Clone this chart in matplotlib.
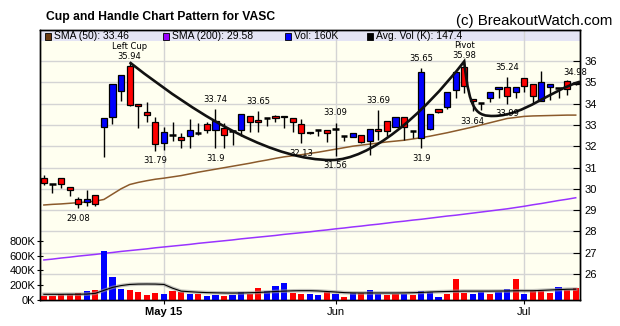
"""Cup-and-handle candlestick chart with volume panel."""
import matplotlib
matplotlib.use("Agg")
import matplotlib.pyplot as plt
import numpy as np
import pandas as pd
from matplotlib.patches import Rectangle, PathPatch
from matplotlib.path import Path

# --- daily prices (Apr 13 - Jul 10, 2015)
opens = [30.49, 30.21, 30.49, 30.07, 29.54, 29.37, 29.69, 32.89, 33.36, 34.61,
         35.75, 33.98, 33.59, 33.15, 32.14, 32.54, 32.42, 32.49, 32.63, 33.03,
         32.76, 32.87, 32.73, 32.76, 33.42, 33.23, 33.31, 33.43, 33.36, 33.31,
         33.03, 32.60, 32.75, 32.75, 32.79, 32.48, 32.45, 32.53, 32.24, 32.79,
         33.20, 32.92, 33.36, 32.71, 32.37, 32.79, 33.73, 33.83, 34.64, 35.70,
         34.20, 34.04, 34.25, 34.69, 34.77, 34.53, 35.19, 34.90, 34.12, 34.77,
         34.72, 35.08, 34.90]
highs = [30.66, 30.23, 30.52, 30.08, 29.60, 29.94, 29.70, 33.33, 34.92, 35.35,
         35.94, 34.00, 34.06, 33.38, 32.92, 33.12, 32.60, 33.26, 33.10, 33.15,
         33.74, 33.07, 32.75, 33.51, 33.42, 33.65, 33.32, 33.45, 33.43, 33.31,
         33.26, 32.68, 32.76, 32.76, 33.09, 32.49, 32.64, 32.53, 32.79, 33.69,
         33.20, 33.36, 33.37, 32.72, 35.65, 33.50, 33.74, 34.53, 35.47, 35.98,
         34.22, 34.05, 34.53, 34.80, 35.24, 34.77, 35.20, 34.93, 35.53, 34.90,
         34.73, 35.09, 34.98]
lows = [30.18, 29.79, 30.02, 29.66, 29.08, 29.19, 29.19, 31.51, 33.04, 34.14,
        33.90, 32.84, 33.12, 31.79, 31.82, 32.24, 31.90, 31.90, 32.53, 32.60,
        31.90, 31.90, 32.06, 32.48, 32.65, 32.68, 32.96, 33.15, 32.87, 32.68,
        32.13, 32.55, 32.49, 32.21, 31.56, 32.26, 32.45, 32.14, 31.59, 32.29,
        32.48, 32.90, 32.29, 32.37, 31.90, 32.78, 33.54, 33.73, 34.25, 34.50,
        33.64, 33.70, 34.09, 34.25, 33.99, 34.25, 34.56, 33.98, 34.12, 34.17,
        34.25, 34.40, 34.85]
closes = [30.26, 30.21, 30.21, 29.94, 29.29, 29.51, 29.29, 33.31, 34.92, 35.34,
          33.95, 33.87, 33.45, 32.09, 32.65, 32.54, 32.29, 32.76, 32.63, 32.76,
          33.17, 32.51, 32.73, 33.51, 33.15, 33.14, 33.31, 33.31, 33.43, 33.12,
          32.63, 32.68, 32.75, 32.63, 32.79, 32.48, 32.64, 32.18, 32.79, 32.71,
          32.71, 33.36, 32.89, 32.71, 35.47, 33.50, 33.61, 34.53, 35.47, 34.83,
          34.11, 34.04, 34.53, 34.80, 34.37, 34.77, 34.83, 34.37, 35.00, 34.90,
          34.72, 34.67, 34.98]

# --- volume (thousands) and up/down colouring
volume_k = [54, 54, 81, 81, 95, 122, 135, 662, 311, 149,
            135, 108, 68, 95, 81, 122, 108, 81, 81, 54,
            68, 54, 68, 108, 81, 162, 122, 189, 230, 95,
            81, 81, 68, 112, 81, 41, 95, 95, 135, 81,
            68, 81, 81, 68, 122, 108, 41, 81, 284, 95,
            81, 108, 81, 108, 149, 284, 81, 135, 122, 95,
            176, 135, 162]
volume_dir = "rrrrrbrbbbrrrrbrrbrbbrbbrrbbbrrbbrbrbrbbrrbrbbbrrrbbrbbrbrrrb"
avg_vol_k = [77, 77, 77, 78, 78, 80, 90, 130, 170, 195,
             210, 215, 216, 215, 210, 160, 120, 112, 105, 100,
             97, 95, 94, 95, 98, 102, 108, 115, 120, 124,
             126, 126, 122, 115, 108, 100, 96, 95, 95, 95,
             95, 95, 96, 98, 102, 108, 112, 115, 118, 120,
             120, 120, 120, 121, 122, 125, 125, 125, 130, 135,
             140, 145, 147]

# --- moving averages
sma50 = [29.24, 29.27, 29.29, 29.32, 29.35, 29.38, 29.42, 29.50, 29.75, 30.00,
         30.20, 30.30, 30.38, 30.45, 30.50, 30.56, 30.62, 30.70, 30.78, 30.85,
         30.92, 30.99, 31.06, 31.13, 31.20, 31.28, 31.35, 31.43, 31.50, 31.55,
         31.60, 31.66, 31.72, 31.79, 31.86, 31.93, 32.00, 32.05, 32.10, 32.15,
         32.20, 32.24, 32.28, 32.34, 32.40, 32.47, 32.55, 32.63, 32.72, 32.81,
         32.90, 33.00, 33.10, 33.20, 33.30, 33.35, 33.40, 33.42, 33.43, 33.44,
         33.45, 33.46, 33.46]
sma200 = [26.66, 26.70, 26.75, 26.79, 26.84, 26.88, 26.92, 26.97, 27.01, 27.06,
          27.10, 27.14, 27.18, 27.23, 27.27, 27.31, 27.35, 27.39, 27.44, 27.48,
          27.52, 27.56, 27.60, 27.65, 27.69, 27.73, 27.77, 27.81, 27.86, 27.90,
          27.94, 27.98, 28.03, 28.07, 28.12, 28.16, 28.21, 28.25, 28.30, 28.34,
          28.39, 28.44, 28.48, 28.53, 28.57, 28.62, 28.67, 28.72, 28.76, 28.81,
          28.86, 28.91, 28.96, 29.01, 29.06, 29.12, 29.18, 29.25, 29.31, 29.38,
          29.45, 29.51, 29.58]

# --- pattern: Bezier control points (trading-day index, price)
cup_x = [10, 19, 27, 33.5, 38, 44, 49, 49.6, 50.5, 52.5, 56, 59, 62.5]
cup_y = [35.94, 33.1, 31.35, 31.35, 31.35, 33.4, 35.98, 33.6, 33.4, 33.42, 33.45, 34.6, 35.03]

# labelled highs / lows: (index, "H" or "L")
price_labels = [(10, "H"), (4, "L"), (13, "L"), (20, "H"), (20, "L"), (25, "H"),
                (30, "L"), (34, "H"), (34, "L"), (39, "H"), (44, "H"), (44, "L"),
                (49, "H"), (50, "L"), (54, "H"), (54, "L"), (62, "H")]
pattern_names = {10: "Left Cup", 49: "Pivot"}

holidays = ["2015-05-25", "2015-07-03"]
dates = pd.bdate_range("2015-04-13", "2015-07-10")
dates = dates[~dates.isin(pd.to_datetime(holidays))]

RED, BLUE = "#ff0000", "#0000ff"
BG = "#fffff0"

fig = plt.figure(figsize=(6.2, 3.26), dpi=100)
ax = fig.add_axes([40 / 620, 26 / 326, 540 / 620, 270 / 326])
vax = ax.twinx()

n = len(closes)
x = np.arange(n)
ax.set_xlim(-0.45, n - 0.5)
ax.set_ylim(24.78, 37.455)
vax.set_ylim(0, 3649)
ax.set_facecolor(BG)

# legend strip across the top
ax.add_patch(Rectangle((0, 0.959), 1, 0.041, transform=ax.transAxes,
                       facecolor="#e4e4f4", edgecolor="none", zorder=0.3))

# grid
ax.set_axisbelow(True)
ax.set_yticks(range(26, 37))
ax.grid(True, color="#d4d4d4", linewidth=1.0)

# month ticks
month_pos = [i for i in range(1, n) if dates[i].month != dates[i - 1].month]
ax.set_xticks(month_pos)
ax.set_xticklabels(["May 15", "Jun", "Jul"], fontsize=8,
                   family="Liberation Sans")
ax.get_xticklabels()[0].set_fontweight("bold")
ax.tick_params(axis="x", length=3, pad=2)

# candles
w = 0.72
for i in x:
    o, h, l, c = opens[i], highs[i], lows[i], closes[i]
    ax.vlines(i, l, h, color="black", linewidth=1.0, zorder=3)
    if abs(c - o) < 0.005:
        ax.hlines(c, i - w / 2, i + w / 2, color="black", linewidth=1.8, zorder=4)
    else:
        col = BLUE if c > o else RED
        ax.add_patch(Rectangle((i - w / 2, min(o, c)), w, abs(c - o),
                               facecolor=col, edgecolor="black",
                               linewidth=0.9, zorder=4))

ax.plot(x, sma50, color="#8b5a2b", linewidth=1.1, zorder=2)
ax.plot(x, sma200, color="#9933ff", linewidth=1.1, zorder=2)

# cup and handle outline
codes = [Path.MOVETO] + [Path.CURVE4] * (len(cup_x) - 1)
cup = Path(np.column_stack([cup_x, cup_y]), codes)
ax.add_patch(PathPatch(cup, facecolor="none", edgecolor="#111111",
                       linewidth=1.9, zorder=5))

# value labels
for i, kind in price_labels:
    v = highs[i] if kind == "H" else lows[i]
    dy = -7.2 if kind == "L" else (4.0 if i in pattern_names else 7.2)
    ax.annotate(f"{v:g}", (i, v), xytext=(0, dy), textcoords="offset points",
                ha="center", va="center", fontsize=6, zorder=6,
                annotation_clip=False)
for i, name in pattern_names.items():
    ax.annotate(name, (i, highs[i]), xytext=(0, 11.3), textcoords="offset points",
                ha="center", va="center", fontsize=6, zorder=6)

# volume panel
vcols = [BLUE if d == "b" else RED for d in volume_dir]
vax.bar(x, volume_k, width=0.72, color=vcols, zorder=2)
vax.plot(x, avg_vol_k, color="#999999", linewidth=2.6, alpha=0.6, zorder=3)
vax.plot(x, avg_vol_k, color="black", linewidth=0.8, zorder=4)

# axes styling
ax.yaxis.tick_right()
ax.tick_params(axis="y", direction="in", length=5, pad=3, labelsize=8)
vax.yaxis.tick_left()
vax.set_yticks([0, 200, 400, 600, 800])
vax.set_yticklabels(["0K", "200K", "400K", "600K", "800K"])
vax.tick_params(axis="y", direction="inout", length=5, pad=1, labelsize=8)
for lab in ax.get_yticklabels() + vax.get_yticklabels():
    lab.set_family("Liberation Sans")
for a in (ax, vax):
    for s in a.spines.values():
        s.set_linewidth(1.0)

# legend
legend_items = [("SMA (50): 33.46", "#6b3a10"), ("SMA (200): 29.58", "#9900ff"),
                ("Vol: 160K", BLUE), ("Avg. Vol (K): 147.4", "black")]
lx = [45, 163, 285, 367]
for (txt, col), px in zip(legend_items, lx):
    xa = (px - 40) / 540
    vax.add_patch(Rectangle((xa, 0.964), 6 / 540, 0.024, transform=vax.transAxes,
                            facecolor=col, edgecolor="black", linewidth=0.6,
                            zorder=6, clip_on=False))
    vax.text(xa + 9 / 540, 0.977, txt, transform=vax.transAxes, fontsize=7.5,
             family="Liberation Sans", va="center", ha="left", zorder=6)

fig.text(46 / 620, 1 - 17 / 326, "Cup and Handle Chart Pattern for VASC",
         fontsize=8.7, fontweight="bold", va="center", ha="left",
         family="Liberation Sans")
fig.text(612 / 620, 1 - 21 / 326, "(c) BreakoutWatch.com", fontsize=10.8,
         family="Liberation Sans", va="center", ha="right")

fig.savefig("out.png", dpi=100)
